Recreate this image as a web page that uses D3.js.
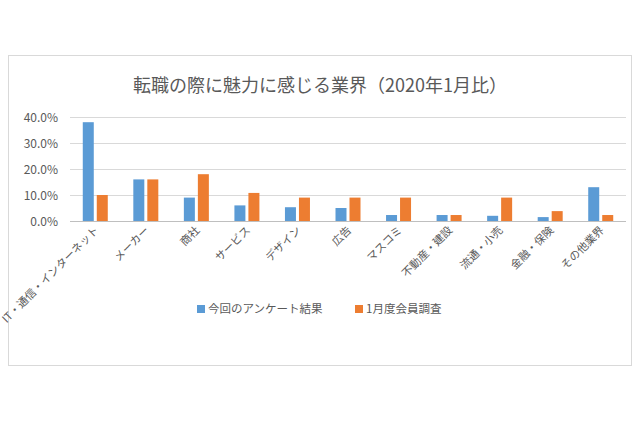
<!DOCTYPE html><html><head><meta charset="utf-8"><script src="https://cdn.jsdelivr.net/npm/d3@7"></script>
<style>body{margin:0;background:#fff}text{font-family:"Noto Sans CJK JP",sans-serif}</style></head><body><svg id="c" width="640" height="426"></svg><script>
const categories=["IT・通信・インターネット","メーカー","商社","サービス","デザイン","広告","マスコミ","不動産・建設","流通・小売","金融・保険","その他業界"];
const seriesNames=["今回のアンケート結果","1月度会員調査"];
const current=[38,16,9,6,5.3,5,2.3,2.3,2,1.5,13];
const january=[10,16,18,10.8,9,9,9,2.3,9,3.8,2.3];
const ticks=[0,10,20,30,40];
const colors=["#5b9bd5","#ed7d31"];
const svg=d3.select("#c");
svg.append("rect").attr("x",8.5).attr("y",55.5).attr("width",623).attr("height",310).attr("fill","#fff").attr("stroke","#d9d9d9");
svg.append("text").attr("x",320).attr("y",92).attr("text-anchor","middle").attr("font-size",18).attr("fill","#595959").text("転職の際に魅力に感じる業界（2020年1月比）");
const x=d3.scaleBand().domain(categories).range([70,626]);
const y=d3.scaleLinear().domain([0,40]).range([221,117]);
ticks.forEach(t=>{svg.append("line").attr("x1",70).attr("x2",626).attr("y1",y(t)+.5).attr("y2",y(t)+.5).attr("stroke",t?"#d9d9d9":"#bfbfbf");
svg.append("text").attr("x",58).attr("y",y(t)+4.5).attr("text-anchor","end").attr("font-size",12).attr("fill","#595959").text(t.toFixed(1)+"%");});
const bw=11;
[current,january].forEach((s,i)=>{svg.selectAll(null).data(s).enter().append("rect")
.attr("x",(d,j)=>x(categories[j])+x.bandwidth()/2+(i?1.5:-1.5-bw)).attr("width",bw)
.attr("y",d=>y(d)).attr("height",d=>y(0)-y(d)).attr("fill",colors[i]);});
categories.forEach(c=>{const cx=x(c)+x.bandwidth()/2+4;svg.append("text").attr("transform",`translate(${cx},231) rotate(-45)`).attr("text-anchor","end").attr("font-size",11).attr("fill","#595959").text(c);});
const lg=[[197,seriesNames[0]],[355,seriesNames[1]]];
lg.forEach(([lx,t],i)=>{svg.append("rect").attr("x",lx).attr("y",305).attr("width",8).attr("height",8).attr("fill",colors[i]);
svg.append("text").attr("x",lx+11).attr("y",313).attr("font-size",11.5).attr("fill","#595959").text(t);});
</script></body></html>
